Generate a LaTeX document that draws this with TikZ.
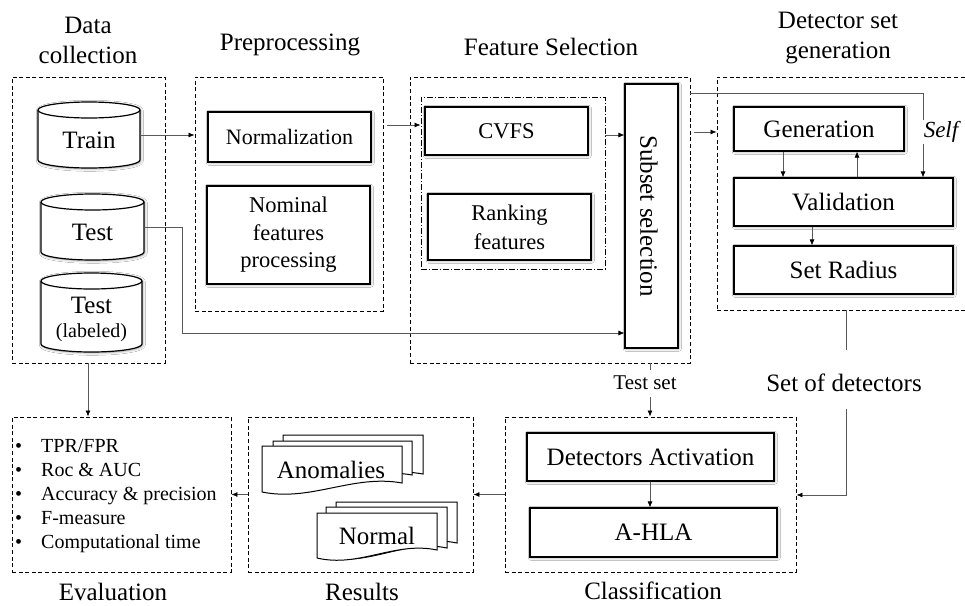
\documentclass[tikz,border=0pt]{standalone}
\usepackage{fontspec}
\setmainfont{Liberation Serif}
\usetikzlibrary{arrows.meta,shadows.blur}
\newcommand{\mycyl}[4]{%
  \pgfmathsetmacro{\cylr}{(#3-#1)/2}%
  \draw[line width=1.2pt, fill=white, blur shadow={shadow blur steps=6, shadow xshift=0.8pt, shadow yshift=-0.8pt, shadow blur radius=2.5pt, shadow opacity=40}]
    (#1,-#2-8) -- (#1,-#4+8) arc[start angle=180,end angle=360,x radius=\cylr,y radius=8]
    -- (#3,-#2-8) arc[start angle=0,end angle=180,x radius=\cylr,y radius=8] -- cycle;
  \draw[line width=1.2pt] (#1,-#2-8) arc[start angle=180,end angle=360,x radius=\cylr,y radius=8];
}
\newcommand{\mydoc}[5]{%
  \draw[line width=1pt, fill=white] (#1,-#2) -- (#3,-#2) -- (#3,-#5)
    .. controls ({#3-0.35*(#3-#1)},{-(#5-9)}) and ({#1+0.35*(#3-#1)},{-(#4+10)}) .. (#1,-#4) -- cycle;
}
\begin{document}
\begin{tikzpicture}[x=1pt,y=1pt,
  grp/.style={draw, line width=0.9pt, dash pattern=on 4pt off 2.6pt, inner sep=0pt},
  ddgrp/.style={draw, line width=0.9pt, dash pattern=on 6pt off 2pt on 1pt off 2pt, inner sep=0pt},
  box/.style={draw, line width=1.2pt, fill=white, inner sep=0pt, align=center,
    blur shadow={shadow blur steps=6, shadow xshift=0.8pt, shadow yshift=-0.8pt, shadow blur radius=2.5pt, shadow opacity=40}},
  ttl/.style={font=\fontsize{25}{30}\selectfont, align=center, inner sep=0pt},
  big/.style={font=\fontsize{25}{30}\selectfont},
  mid/.style={font=\fontsize{22.5}{27.5}\selectfont},
  conn/.style={line width=0.7pt, draw=black!65},
  arr/.style={conn, -{Latex[length=6pt,width=5pt,color=black]}}]
\clip (0,0) rectangle (965,-605);
\fill[white] (0,0) rectangle (965,-605);

% ---------- Data collection ----------
\node[grp, minimum width=153, minimum height=286] (dc) at (88.5,-220) {};
\node[ttl] (dct) at (88,-40) {Data\\collection};
\mycyl{38}{102}{140}{168}
\mycyl{41}{194}{144}{260}
\mycyl{41}{273}{142}{352}
\node[big, inner sep=0pt] (train) at (89,-140) {Train};
\node[big, inner sep=0pt] (test) at (92.5,-232) {Test};
\node[big, inner sep=0pt] (testl) at (91.5,-305) {Test};
\node[font=\fontsize{20}{24}\selectfont, inner sep=0pt] (lab) at (91.5,-333) {(labeled)};
\coordinate (trainE) at (140,-135);
\coordinate (testE) at (144,-227);

% ---------- Preprocessing ----------
\node[grp, minimum width=188, minimum height=234] (pp) at (289,-194) {};
\node[ttl] (ppt) at (290,-45) {Preprocessing};
\node[box, minimum width=163, minimum height=50, font=\fontsize{22}{26}\selectfont] (norm) at (289.5,-137) {Normalization};
\node[box, minimum width=163, minimum height=98, mid] (nom) at (288.5,-235) {Nominal\\features\\processing};

% ---------- Feature selection ----------
\node[grp, minimum width=280, minimum height=286] (fs) at (550,-220) {};
\node[ttl] (fst) at (551,-47) {Feature Selection};
\node[ddgrp, minimum width=184, minimum height=172] (dd) at (513,-183) {};
\node[box, minimum width=163, minimum height=48, mid] (cvfs) at (506.5,-131) {CVFS};
\node[box, minimum width=163, minimum height=66, font=\fontsize{22.5}{29}\selectfont] (rank) at (509.5,-227) {Ranking\\features};
\node[box, minimum width=53, minimum height=264] (sub) at (651.5,-216) {};
\node[big, rotate=-90, inner sep=0pt] (subt) at (649,-216) {Subset selection};

% ---------- Detector set generation ----------
\node[grp, minimum width=268, minimum height=233] (dg) at (851,-193.5) {};
\node[ttl] (dgt) at (838,-38) {Detector set\\generation};
\node[box, minimum width=170, minimum height=44, big] (gen) at (819,-129) {Generation};
\node[box, minimum width=219, minimum height=48, big] (val) at (843.5,-202) {Validation};
\node[box, minimum width=219, minimum height=48, big] (rad) at (843.5,-270) {Set Radius};

% ---------- Bottom row ----------
\node[grp, minimum width=219, minimum height=155] (ev) at (121.5,-494.5) {};
\node[ttl] (evt) at (113,-592) {Evaluation};
\node[anchor=west, align=left, inner sep=0pt, font=\fontsize{20}{24}\selectfont] (evl) at (15,-496)
  {\makebox[26pt][l]{\textbullet}TPR/FPR\\
   \makebox[26pt][l]{\textbullet}Roc \& AUC\\
   \makebox[26pt][l]{\textbullet}Accuracy \& precision\\
   \makebox[26pt][l]{\textbullet}F-measure\\
   \makebox[26pt][l]{\textbullet}Computational time};

\node[grp, minimum width=225, minimum height=155] (res) at (360.5,-494.5) {};
\node[ttl] (rest) at (362,-592) {Results};
\mydoc{283}{435}{423}{483}{474}
\mydoc{273}{441}{412}{484}{475}
\mydoc{262}{446}{402}{492}{483}
\mydoc{336}{502}{457}{552}{543}
\mydoc{326}{507}{447}{557}{548}
\mydoc{317}{513}{437}{558}{550}
\node[big, inner sep=0pt] (anom) at (331,-470) {Anomalies};
\node[big, inner sep=0pt] (normal) at (377,-536) {Normal};

\node[grp, minimum width=291, minimum height=155] (cls) at (650.5,-494.5) {};
\node[ttl] (clst) at (653,-591) {Classification};
\node[box, minimum width=247, minimum height=48, big] (da) at (650.5,-457) {Detectors Activation};
\node[box, minimum width=247, minimum height=49, big] (ahla) at (653.5,-532.5) {A-HLA};

\node[font=\fontsize{21}{25}\selectfont, inner sep=0pt] (tset) at (645,-383) {Test set};
\node[big, inner sep=0pt] (sod) at (844,-383) {Set of detectors};

% ---------- Connectors ----------
\draw[arr] (trainE) -- (pp.west |- trainE);
\draw[arr] (testE) -- (182,-227) -- (182,-333) -- (sub.west |- 0,-333);
\draw[arr] (387,-125) -- (dd.west |- 0,-125);
\draw[arr] (dd.east |- 0,-135) -- (sub.west |- 0,-135);
\draw[arr] (694,-132) -- (dg.west |- 0,-132);
\draw[arr] (fs.east |- 0,-93) -- (923,-93) -- (val.north -| 923,0);
\node[fill=white, inner sep=1pt, font=\itshape\fontsize{23}{27}\selectfont] (self) at (941,-132) {Self};
\draw[arr] (gen.south -| 783,0) -- (val.north -| 783,0);
\draw[arr] (val.north -| 857,0) -- (gen.south -| 857,0);
\draw[arr] (val.south -| 812,0) -- (rad.north -| 812,0);
\draw[conn] (dg.south -| 846,0) -- (846,-350);
\draw[arr] (846,-409) -- (846,-495) -- (cls.east |- 0,-495);
\draw[conn] (fs.south -| 650,0) -- (650,-370);
\draw[arr] (650,-397) -- (cls.north -| 650,0);
\draw[arr] (da.south -| 650,0) -- (ahla.north -| 650,0);
\draw[arr] (cls.west) -- (res.east);
\draw[arr] (res.west) -- (ev.east);
\draw[arr] (dc.south -| 88,0) -- (ev.north -| 88,0);
\end{tikzpicture}
\end{document}
